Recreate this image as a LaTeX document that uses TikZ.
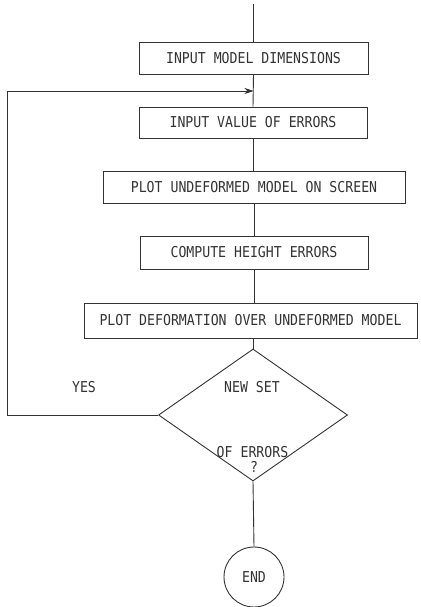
\documentclass[tikz,border=0pt]{standalone}
\usepackage{fontspec}
\usetikzlibrary{shapes.geometric,arrows.meta}
\newfontfamily\chartfont[FakeStretch=0.88]{DejaVu Sans Mono}
\definecolor{ink}{gray}{0.2}
\tikzset{
  every node/.style={font=\chartfont\fontsize{15}{17}\selectfont, text=ink},
  procbox/.style={draw=ink, line width=0.9pt, rectangle, inner sep=0pt},
  decision/.style={draw=ink, line width=0.9pt, diamond, inner sep=0pt,
    minimum width=189pt, minimum height=132pt},
  terminal/.style={draw=ink, line width=0.9pt, circle, inner sep=0pt, minimum size=60pt},
  flow/.style={draw=ink, line width=0.9pt},
  label/.style={inner sep=0pt}
}
\begin{document}
\begin{tikzpicture}[x=1pt, y=-1pt]
  \useasboundingbox (0,0) rectangle (420,607);

  % process steps
  \node[procbox, minimum width=229pt, minimum height=32pt] (dims) at (253.5,58)
    {INPUT MODEL DIMENSIONS};
  \node[procbox, minimum width=228pt, minimum height=31pt] (errs) at (253,122.5)
    {INPUT VALUE OF ERRORS};
  \node[procbox, minimum width=302pt, minimum height=32pt] (plotu) at (254,187)
    {PLOT UNDEFORMED MODEL ON SCREEN};
  \node[procbox, minimum width=228pt, minimum height=33pt] (height) at (254,252.5)
    {COMPUTE HEIGHT ERRORS};
  \node[procbox, minimum width=333pt, minimum height=35pt] (plotd) at (250.5,320.5)
    {PLOT DEFORMATION OVER UNDEFORMED MODEL};

  % decision
  \node[decision] (ask) at (253,415) {};
  \node[label] (askA) at (252,387) {NEW SET};
  \node[label] (askB) at (252.5,452) {OF ERRORS};
  \node[label] (askC) at (254,467) {?};
  \node[label] (yes) at (84,387) {YES};

  % end
  \node[terminal] (stop) at (254,577) {END};

  % connectors
  \coordinate (entry) at (253.5,4);
  \coordinate (join) at (253.5,91);
  \coordinate (back) at (7,415);
  \draw[flow] (entry) -- (dims.north);
  \draw[flow] (dims.south) -- (errs.north);
  \draw[flow] (errs.south) -- (errs.south |- plotu.north);
  \draw[flow] (height.north |- plotu.south) -- (height.north);
  \draw[flow] (height.south) -- (height.south |- plotd.north);
  \draw[flow] (ask.north |- plotd.south) -- (ask.north);
  \draw[flow] (ask.south) -- (stop.north);
  \draw[flow, -{Stealth[length=9pt, width=6pt]}] (ask.west) -- (back) |- (join);
\end{tikzpicture}
\end{document}
